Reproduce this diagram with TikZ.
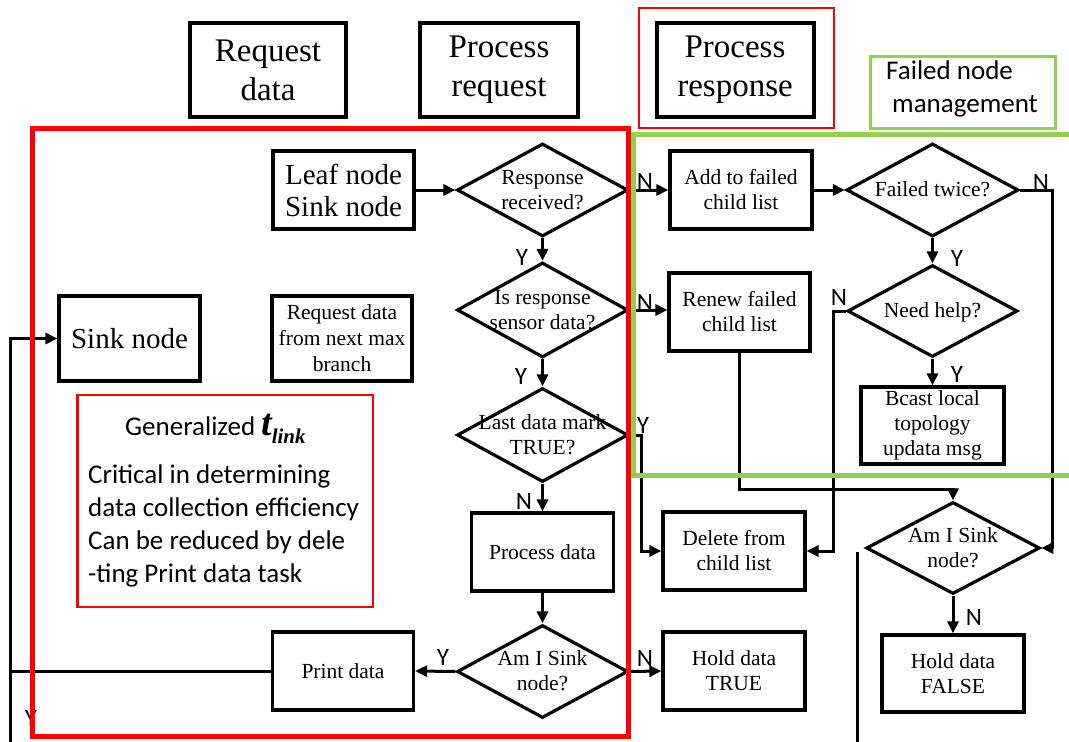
\documentclass[tikz,border=0pt]{standalone}
\usepackage{fontspec}
\setmainfont{Liberation Serif}
\newfontfamily\calib{Carlito}
\usetikzlibrary{shapes.geometric,arrows.meta}
\definecolor{frred}{RGB}{255,0,0}
\definecolor{frgreen}{RGB}{146,208,80}
% text centred inside a decision diamond, not widening it
\newcommand{\dtext}[1]{\smash{\makebox[0pt]{\raisebox{-7pt}{\begin{tabular}{@{}c@{}}#1\end{tabular}}}}}

\begin{document}
\begin{tikzpicture}[x=1pt,y=-1pt,
  box/.style={draw,line width=3.2pt,rectangle,inner sep=0pt,align=center,
    minimum width=142pt,minimum height=78pt,font=\fontsize{21.5}{25}\selectfont},
  titlebox/.style={draw,line width=4pt,rectangle,inner sep=0pt,align=center,
    minimum height=94pt,font=\fontsize{33}{39}\selectfont},
  dec/.style={draw,line width=3.2pt,diamond,inner sep=0pt,
    minimum width=171pt,minimum height=93pt,font=\fontsize{21.5}{25}\selectfont},
  flow/.style={line width=3pt,-{Triangle[length=12pt,width=11pt]}},
  plainline/.style={line width=3pt},
  yn/.style={font=\calib\fontsize{25}{28}\selectfont,inner sep=0pt},
  note/.style={font=\calib\fontsize{27}{33}\selectfont,inner sep=0pt},
]
\useasboundingbox (0,0) rectangle (1069,742);

% column titles
\node[titlebox,minimum width=156pt] (treq) at (268,70) {Request\\data};
\node[titlebox,minimum width=158pt] (tproc) at (499,70) {Process\\request};
\node[titlebox,minimum width=157pt] (tresp) at (735,70) {Process\\response};
\node[note,anchor=west,align=left] (fnm) at (886,89) {Failed node\\\hspace*{6pt}management};

% flow chart
\node[box,minimum width=141pt,font=\fontsize{29}{32}\selectfont] (leaf) at (343.5,190) {Leaf node\\Sink node};
\node[dec] (resp) at (542.5,190) {\dtext{Response\\received?}};
\node[box] (add) at (741,190) {Add to failed\\child list};
\node[dec,minimum width=172pt] (ftw) at (932.5,190) {\dtext{Failed twice?}};
\node[dec,minimum height=95pt] (isr) at (542.5,310) {\dtext{Is response\\sensor data?}};
\node[box,minimum width=141pt] (renew) at (739.5,312) {Renew failed\\child list};
\node[dec,minimum width=170pt,minimum height=92pt] (help) at (932.5,311) {\dtext{Need help?}};
\node[box,minimum width=141pt,minimum height=85pt,font=\fontsize{29}{32}\selectfont] (sink) at (129.5,338.5) {Sink node};
\node[box,minimum width=140pt,minimum height=85pt,font=\fontsize{21.5}{26}\selectfont] (reqnext) at (342,338.5) {Request data\\from next max\\branch};
\node[dec,minimum height=94pt] (last) at (542.5,435) {\dtext{Last data mark\\TRUE?}};
\node[box,minimum width=143pt,minimum height=77pt] (bcast) at (932.5,425.5) {Bcast local\\topology\\updata msg};
\node[box,minimum width=142.5pt] (procd) at (542.5,552) {Process data};
\node[box] (del) at (734,551) {Delete from\\child list};
\node[dec,minimum width=173.5pt,minimum height=92pt] (sinkR) at (953,548) {\dtext{Am I Sink\\node?}};
\node[dec] (sinkB) at (542.5,671.5) {\dtext{Am I Sink\\node?}};
\node[box,minimum width=141pt] (print) at (343,671) {Print data};
\node[box] (holdT) at (734,671) {Hold data\\TRUE};
\node[box,minimum height=77pt] (holdF) at (953,673.5) {Hold data\\FALSE};

% connectors
\coordinate (cN1) at (1052,190);
\coordinate (cN2) at (833,311);
\coordinate (cR) at (739.5,489);
\coordinate (cY) at (641,435);
\coordinate (cL0) at (10,742);
\coordinate (cL1) at (10,338.5);
\coordinate (cL2) at (10,671);
\coordinate (cV0) at (857,552);
\coordinate (cV1) at (857,742);

\draw[flow] (leaf.east) -- (resp.west);
\draw[flow] (resp.south) -- (isr.north);
\draw[flow] (resp.east) -- (add.west);
\draw[flow] (add.east) -- (ftw.west);
\draw[flow] (ftw.south) -- (help.north);
\draw[flow] (ftw.east) -- (cN1) |- (sinkR.east);
\draw[flow] (isr.east) -- (isr.east -| renew.west);
\draw[flow] (isr.south) -- (last.north);
\draw[flow] (help.west) -- (cN2) |- (del.east);
\draw[flow] (help.south) -- (bcast.north);
\draw[flow] (renew.south) -- (cR) -| (sinkR.north);
\draw[flow] (last.east) -- (cY) |- (del.west);
\draw[flow] (last.south) -- (procd.north);
\draw[flow] (procd.south) -- (sinkB.north);
\draw[flow] (sinkB.east) -- (holdT.west);
\draw[flow] (sinkB.west) -- (print.east);
\draw[flow] (sinkR.south) -- (holdF.north);
\draw[flow] (cL0) -- (cL1) -- (sink.west);
\draw[plainline] (print.west) -- (cL2);
\draw[plainline] (cV0) -- (cV1);

% branch labels
\node[yn] (y1) at (522,257) {Y};
\node[yn] (n1) at (645,181) {N};
\node[yn] (y2) at (957,258) {Y};
\node[yn] (n2) at (1041,182) {N};
\node[yn] (n3) at (645,302) {N};
\node[yn] (y3) at (521,376) {Y};
\node[yn] (n4) at (839,297) {N};
\node[yn] (y4) at (957,374) {Y};
\node[yn] (y5) at (643,425) {Y};
\node[yn] (n5) at (524,501) {N};
\node[yn] (n6) at (645,658) {N};
\node[yn] (y6) at (443,657) {Y};
\node[yn] (n7) at (974,617) {N};
\node[yn] (y7) at (31,718) {Y};

% note on the generalized link time
\node[note,anchor=base west] (gen) at (125,435) {Generalized {\rmfamily\bfseries\itshape\fontsize{38}{38}\selectfont t}\raisebox{-8pt}{\rmfamily\bfseries\itshape\fontsize{21}{21}\selectfont link}};
\node[note,anchor=base west] (crit) at (88,483) {\begin{tabular}[t]{@{}l@{}}Critical in determining\\data collection efficiency\\Can be reduced by dele\\-ting Print data task\end{tabular}};

% grouping frames
\draw[frred,line width=5pt] (32,128.5) rectangle (628.5,736.5);
\draw[frgreen,line width=5pt] (633,134) rectangle (1085,475);
\draw[frred,line width=2.5pt] (77.7,395) rectangle (373,607);
\draw[frred,line width=2.5pt] (639,8) rectangle (834,128);
\draw[frgreen,line width=3pt] (870,56) rectangle (1055,128);
\end{tikzpicture}
\end{document}
